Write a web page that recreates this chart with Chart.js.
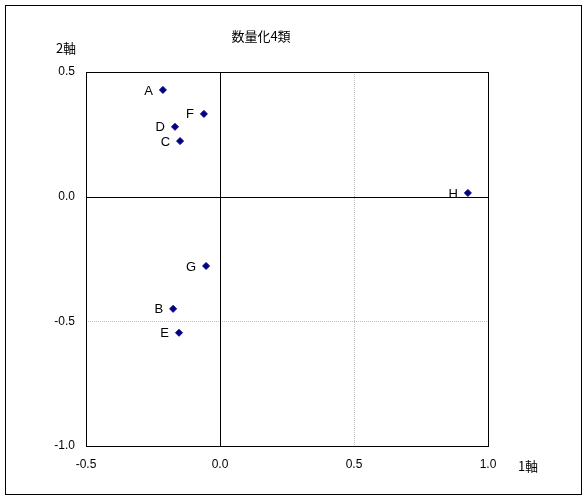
<!DOCTYPE html>
<html><head><meta charset="utf-8">
<script src="https://cdn.jsdelivr.net/npm/chart.js@4"></script>
<style>body{margin:0;background:#fff}#w{width:587px;height:500px}</style>
</head><body><div id="w"><canvas id="c"></canvas></div>
<script>
const labels=["A","F","D","C","H","G","B","E"];
const xVals=[-0.213,-0.060,-0.168,-0.149,0.925,-0.052,-0.175,-0.153];
const yVals=[0.428,0.332,0.280,0.223,0.015,-0.278,-0.450,-0.546];
const xTicks=[-0.5,0,0.5,1.0];
const yTicks=[-1.0,-0.5,0,0.5];
const F='"Liberation Sans", Arial, sans-serif';
const deco={id:'deco',
 beforeDatasetsDraw(ch){const c=ch.ctx,a=ch.chartArea,x=ch.scales.x,y=ch.scales.y;c.save();
  c.strokeStyle='#c0c0c0';c.lineWidth=1;c.setLineDash([1,1]);
  c.beginPath();c.moveTo(Math.round(x.getPixelForValue(0.5))+.5,a.top);c.lineTo(Math.round(x.getPixelForValue(0.5))+.5,a.bottom);
  c.moveTo(a.left,Math.round(y.getPixelForValue(-0.5))+.5);c.lineTo(a.right,Math.round(y.getPixelForValue(-0.5))+.5);c.stroke();
  c.setLineDash([]);c.strokeStyle='#000';c.beginPath();
  c.moveTo(Math.round(x.getPixelForValue(0))+.5,a.top);c.lineTo(Math.round(x.getPixelForValue(0))+.5,a.bottom);
  c.moveTo(a.left,Math.round(y.getPixelForValue(0))+.5);c.lineTo(a.right,Math.round(y.getPixelForValue(0))+.5);c.stroke();
  c.strokeRect(a.left+.5,a.top+.5,a.right-a.left,a.bottom-a.top);
  c.strokeRect(5.5,5.5,576,489);
  c.fillStyle='#000';c.font='13px "Noto Sans CJK JP"';c.textAlign='center';c.textBaseline='middle';
  c.fillText('数量化4類',261,36);c.fillText('2軸',66,48);c.fillText('1軸',528,466);
  c.font='13px '+F;c.textAlign='right';
  labels.forEach((l,i)=>c.fillText(l,x.getPixelForValue(xVals[i])-10,y.getPixelForValue(yVals[i])+1));
  c.restore();}};
new Chart(document.getElementById('c'),{type:'scatter',
 data:{datasets:[{data:xVals.map((v,i)=>({x:v,y:yVals[i]})),pointStyle:'rectRot',radius:3.5,backgroundColor:'#000080',borderColor:'#000080'}]},
 options:{responsive:true,maintainAspectRatio:false,animation:false,
  layout:{padding:{left:0,top:72,right:99,bottom:0}},
  plugins:{legend:{display:false},tooltip:{enabled:false}},
  scales:{
   x:{min:-0.5,max:1.0,afterBuildTicks:s=>{s.ticks=xTicks.map(v=>({value:v}))},afterFit:s=>{s.height=54},
    grid:{display:false,drawTicks:true},border:{display:false},
    ticks:{color:'#000',font:{family:F,size:12},callback:v=>v.toFixed(1),maxRotation:0}},
   y:{min:-1.0,max:0.5,afterBuildTicks:s=>{s.ticks=yTicks.map(v=>({value:v}))},afterFit:s=>{s.width=86},
    grid:{display:false},border:{display:false},
    ticks:{color:'#000',font:{family:F,size:12},callback:v=>v.toFixed(1)}}}},
 plugins:[deco]});
</script></body></html>
